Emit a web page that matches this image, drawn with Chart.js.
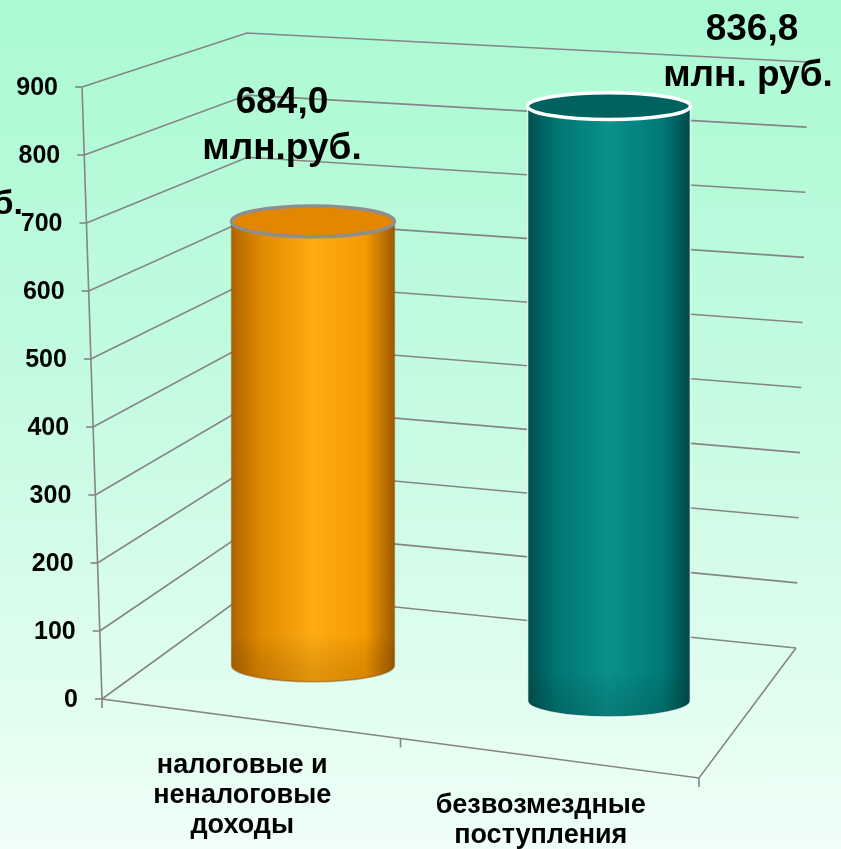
<!DOCTYPE html>
<html>
<head>
<meta charset="utf-8">
<script src="https://cdn.jsdelivr.net/npm/chart.js@4.4.1/dist/chart.umd.min.js"></script>
<style>
  html, body { margin: 0; padding: 0; }
  body {
    width: 841px; height: 849px; overflow: hidden;
    background: linear-gradient(#aafad2 0%, #c4fbe0 45%, #f0fff8 100%);
  }
</style>
</head>
<body>
<canvas id="chart" width="841" height="849"></canvas>
<script>
// данные
const categories = [["налоговые и", "неналоговые", "доходы"], ["безвозмездные", "поступления"]];
const values = [684.0, 836.8];
const units = ["млн.руб.", "млн. руб."];
const yTicks = [0, 100, 200, 300, 400, 500, 600, 700, 800, 900];

// 3D рамка (углы в пикселях)
const flb = [102, 699], flt = [82, 87];
const blb = [249, 592], blt = [247, 33];
const brb = [796, 648], brt = [808, 62];
const frb = [699, 778];
const depth = 0.47;            // где стоят цилиндры между передом и задом
const persp = [0.955, 1.045];  // перспектива по высоте
const labelPos = [[282, 103], [752, 30]];
const FONT = '"Liberation Sans", Arial, sans-serif';

const lerp = (a, b, t) => [a[0] + (b[0] - a[0]) * t, a[1] + (b[1] - a[1]) * t];

function frac(scale, v) {
  const p0 = scale.getPixelForValue(scale.min), p1 = scale.getPixelForValue(scale.max);
  return (p0 - scale.getPixelForValue(v)) / (p0 - p1);
}

function line(ctx, pts) {
  ctx.beginPath();
  ctx.moveTo(pts[0][0], pts[0][1]);
  pts.slice(1).forEach(p => ctx.lineTo(p[0], p[1]));
  ctx.stroke();
}

const frame = {
  id: "frame",
  beforeDatasetsDraw(chart) {
    const ctx = chart.ctx, y = chart.scales.y;
    ctx.save();
    ctx.strokeStyle = "#858585";
    ctx.lineWidth = 1.6;
    y.ticks.forEach(t => {
      const f = frac(y, t.value);
      const a = lerp(flb, flt, f), b = lerp(blb, blt, f), c = lerp(brb, brt, f);
      line(ctx, [a, b, c]);
      line(ctx, [[a[0] - 7, a[1]], a]);
    });
    line(ctx, [flt, flb, frb, brb]);
    const n = categories.length;
    for (let i = 0; i <= n; i++) {
      const p = lerp(flb, frb, i / n);
      line(ctx, [p, [p[0], p[1] + 9]]);
    }
    // подписи оси
    ctx.fillStyle = "#000";
    ctx.font = "bold 25px " + FONT;
    ctx.textAlign = "right";
    ctx.textBaseline = "middle";
    y.ticks.forEach(t => {
      const a = lerp(flb, flt, frac(y, t.value));
      ctx.fillText(String(t.value), a[0] - 24, a[1] + 1);
    });
    // категории
    ctx.textAlign = "center";
    ctx.font = "bold 27px " + FONT;
    categories.forEach((lab, i) => {
      const p = lerp(flb, frb, (i + 0.5) / n);
      lab.forEach((s, k) => ctx.fillText(s, p[0] - 9, p[1] + 47 + k * 30));
    });
    // обрезанный заголовок оси
    ctx.textAlign = "right";
    ctx.font = "bold 34px " + FONT;
    ctx.fillText("млн.руб.", 23, 205);
    ctx.restore();
  }
};

const styles = [
  { body: ["#b06400", "#e08a00", "#ffab12", "#f59a00", "#9e5a00"], top: "#e48700", rim: "#8e8e8e",
    edge: "rgba(140,90,30,0.55)", shade: "rgba(120,60,0,0.22)" },
  { body: ["#004f4d", "#007673", "#0a908b", "#007a77", "#004a48"], top: "#00625f", rim: "#ffffff",
    edge: "rgba(255,255,255,0.8)", shade: "rgba(0,40,40,0.18)" }
];

const cylinders = {
  id: "cylinders",
  afterDatasetsDraw(chart) {
    const ctx = chart.ctx;
    const meta = chart.getDatasetMeta(0);
    const front = lerp(flb, blb, depth), back = lerp(frb, brb, depth);
    ctx.save();
    meta.data.forEach((el, i) => {
      const st = styles[i];
      const cx = el.x, rx = el.width / 2, ry = rx * 0.2;
      const t = (cx - front[0]) / (back[0] - front[0]);
      const botY = front[1] + (back[1] - front[1]) * t;
      const topY = botY - (el.base - el.y) * persp[i];
      const ryTop = rx * (0.14 + 0.00022 * topY);

      const g = ctx.createLinearGradient(cx - rx, 0, cx + rx, 0);
      [0, 0.18, 0.5, 0.82, 1].forEach((s, k) => g.addColorStop(s, st.body[k]));
      ctx.beginPath();
      ctx.moveTo(cx - rx, topY);
      ctx.lineTo(cx - rx, botY);
      ctx.ellipse(cx, botY, rx, ry, 0, Math.PI, 0, true);
      ctx.lineTo(cx + rx, topY);
      ctx.ellipse(cx, topY, rx, ryTop, 0, 0, Math.PI, false);
      ctx.closePath();
      ctx.fillStyle = g;
      ctx.fill();
      const v = ctx.createLinearGradient(0, botY - 30, 0, botY + ry);
      v.addColorStop(0, "rgba(0,0,0,0)");
      v.addColorStop(1, st.shade);
      ctx.fillStyle = v;
      ctx.fill();
      ctx.strokeStyle = st.edge;
      ctx.lineWidth = 1.5;
      ctx.stroke();

      ctx.beginPath();
      ctx.ellipse(cx, topY, rx, ryTop, 0, 0, Math.PI * 2);
      ctx.fillStyle = st.top;
      ctx.fill();
      ctx.strokeStyle = st.rim;
      ctx.lineWidth = 3.5;
      ctx.stroke();

      // подпись значения
      const p = labelPos[i];
      ctx.fillStyle = "#000";
      ctx.font = "bold 37px " + FONT;
      ctx.textAlign = "center";
      ctx.textBaseline = "middle";
      ctx.fillText(values[i].toFixed(1).replace(".", ","), p[0], p[1]);
      ctx.fillText(units[i], p[0] - (i === 1 ? 4 : 0), p[1] + 46);
    });
    ctx.restore();
  }
};

new Chart(document.getElementById("chart"), {
  type: "bar",
  data: {
    labels: categories,
    datasets: [{
      data: values,
      backgroundColor: "rgba(0,0,0,0)",
      borderWidth: 0,
      barPercentage: 0.55,
      categoryPercentage: 1
    }]
  },
  options: {
    responsive: false,
    animation: false,
    layout: { padding: { left: 165, right: 84, top: 87, bottom: 150 } },
    plugins: { legend: { display: false }, tooltip: { enabled: false } },
    scales: {
      x: { display: false },
      y: {
        display: false, min: 0, max: 900,
        afterBuildTicks: s => { s.ticks = yTicks.map(v => ({ value: v })); }
      }
    }
  },
  plugins: [frame, cylinders]
});
</script>
</body>
</html>
